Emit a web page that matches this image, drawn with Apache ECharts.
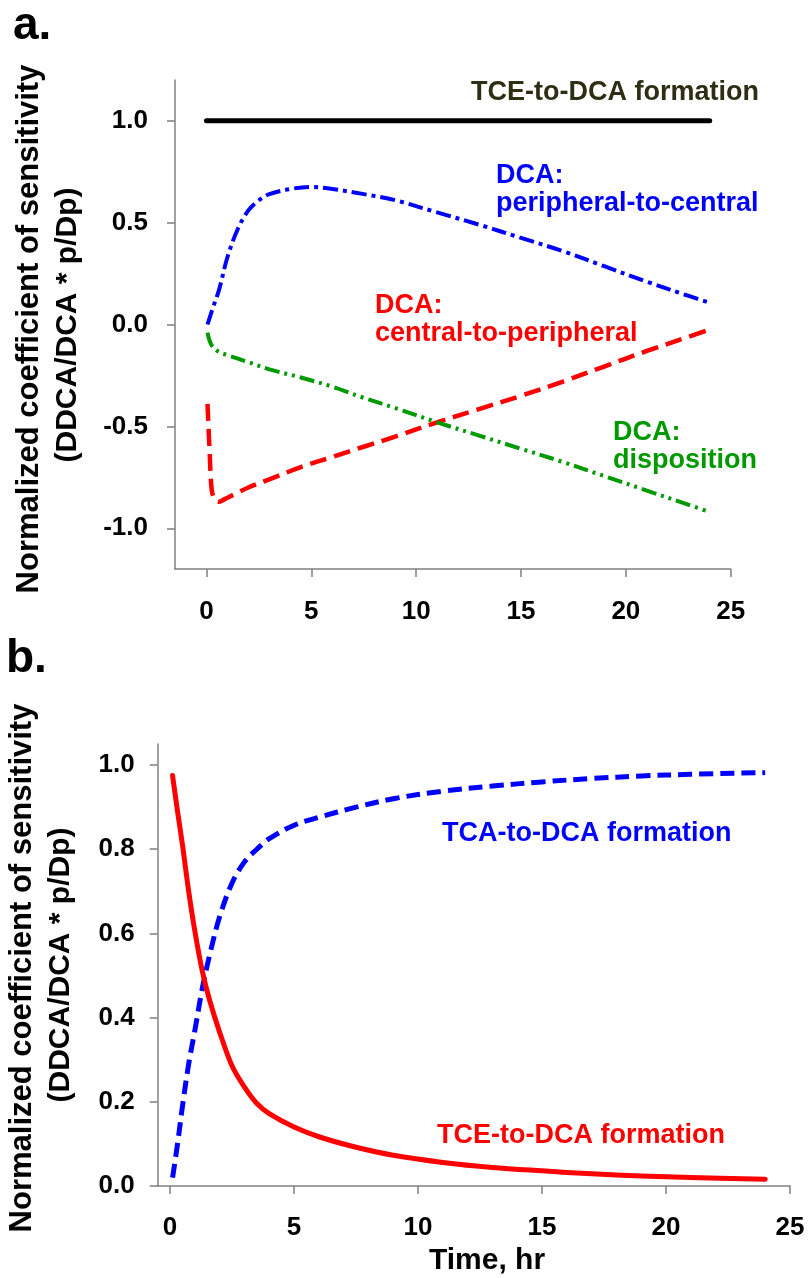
<!DOCTYPE html>
<html>
<head>
<meta charset="utf-8">
<script src="https://cdn.jsdelivr.net/npm/echarts@6/dist/echarts.min.js"></script>
<style>
html,body{margin:0;padding:0;background:#fff;}
#chart{width:809px;height:1278px;}
</style>
</head>
<body>
<div id="chart"></div>
<script>
// ---------- Ticks ----------
const xTicks = [0, 5, 10, 15, 20, 25];
const yTicksA = [-1.0, -0.5, 0.0, 0.5, 1.0];
const yTicksB = [0.0, 0.2, 0.4, 0.6, 0.8, 1.0];

// ---------- Panel a data ----------
const a_tce_t = [0, 24];
const a_tce_v = [1.0, 1.0];

const a_p2c_t = [0.05, 0.3, 0.6, 1.0, 1.5, 2.0, 2.5, 3.0, 4.0, 5.0, 6.0, 7.5, 9.0, 11.0, 13.0, 15.0, 17.0, 19.0, 21.0, 23.0, 24.0];
const a_p2c_v = [0.0, 0.08, 0.17, 0.33, 0.47, 0.56, 0.61, 0.64, 0.665, 0.675, 0.665, 0.64, 0.61, 0.55, 0.49, 0.425, 0.36, 0.285, 0.21, 0.14, 0.107];

const a_c2p_t = [0.05, 0.15, 0.25, 0.4, 0.6, 0.9, 1.3, 2.0, 3.0, 4.5, 6.0, 7.5, 9.0, 11.0, 13.0, 15.0, 17.0, 19.0, 21.0, 23.0, 24.0];
const a_c2p_v = [-0.39, -0.62, -0.81, -0.86, -0.87, -0.855, -0.835, -0.8, -0.76, -0.7, -0.65, -0.6, -0.55, -0.48, -0.415, -0.35, -0.28, -0.205, -0.13, -0.06, -0.025];

const a_disp_t = [0.05, 0.15, 0.3, 0.6, 1.0, 2.0, 3.0, 4.5, 6.0, 7.5, 9.0, 11.0, 13.0, 15.0, 17.0, 19.0, 21.0, 23.0, 24.0];
const a_disp_v = [-0.04, -0.08, -0.11, -0.135, -0.15, -0.185, -0.22, -0.26, -0.305, -0.36, -0.41, -0.48, -0.545, -0.61, -0.675, -0.745, -0.815, -0.885, -0.92];

// ---------- Panel b data ----------
const b_t = [0.1, 0.3, 0.5, 0.75, 1.0, 1.3, 1.6, 2.0, 2.5, 3.0, 3.5, 4.0, 5.0, 6.0, 7.5, 9.0, 11.0, 13.0, 15.0, 17.0, 19.0, 21.0, 24.0];
const b_tce_v = [0.975, 0.89, 0.81, 0.70, 0.605, 0.51, 0.44, 0.365, 0.285, 0.235, 0.196, 0.172, 0.14, 0.117, 0.092, 0.073, 0.056, 0.044, 0.036, 0.029, 0.024, 0.02, 0.016];
const b_tca_v = [0.02, 0.10, 0.19, 0.29, 0.37, 0.47, 0.55, 0.64, 0.72, 0.77, 0.80, 0.825, 0.857, 0.876, 0.90, 0.92, 0.938, 0.95, 0.96, 0.968, 0.974, 0.978, 0.982];

const FONT = "'Liberation Sans', Arial, sans-serif";

function zip(xs, ys) { return xs.map((x, i) => [x, ys[i]]); }

const axisLineStyle = { color: '#808080', width: 1.5 };

function xAxisDef(grid, min, margin) {
  return {
    type: 'value', gridIndex: grid, min: min, max: 25,
    axisLine: { show: true, onZero: false, lineStyle: axisLineStyle },
    axisTick: { show: true, customValues: xTicks, length: 8, lineStyle: axisLineStyle },
    axisLabel: { customValues: xTicks, margin: margin, color: '#000', fontSize: 26, fontWeight: 'bold', fontFamily: FONT },
    splitLine: { show: false }
  };
}
function yAxisDef(grid, min, max, ticks, margin) {
  return {
    type: 'value', gridIndex: grid, min: min, max: max,
    axisLine: { show: true, onZero: false, lineStyle: axisLineStyle },
    axisTick: { show: true, customValues: ticks, length: 8, lineStyle: axisLineStyle },
    axisLabel: { customValues: ticks, margin: margin, color: '#000', fontSize: 26, fontWeight: 'bold', fontFamily: FONT,
      formatter: v => Number(v).toFixed(1) },
    splitLine: { show: false }
  };
}

function lineSeries(xi, data, color, width, dash, cap) {
  return {
    type: 'line', xAxisIndex: xi, yAxisIndex: xi, data: data,
    showSymbol: false, symbol: 'none', smooth: 0.35,
    lineStyle: { color: color, width: width, type: dash, cap: cap || 'butt', join: 'round' },
    silent: true
  };
}

function txt(x, y, s, color, size, weight) {
  return {
    type: 'text', x: x, y: y,
    style: { text: s, fill: color, font: (weight || 'bold') + ' ' + size + 'px ' + FONT,
      textAlign: 'left', textVerticalAlign: 'middle' }
  };
}
function vtxt(x, y, s, size, weight) {
  return {
    type: 'text', x: x, y: y, rotation: Math.PI / 2,
    style: { text: s, fill: '#000', font: weight + ' ' + size + 'px ' + FONT,
      textAlign: 'center', textVerticalAlign: 'middle' }
  };
}

const chart = echarts.init(document.getElementById('chart'), null, { renderer: 'canvas' });
const option = {
  animation: false,
  backgroundColor: '#fff',
  grid: [
    { left: 175, top: 80, width: 555.7, height: 489 },
    { left: 157.7, top: 744, width: 632.3, height: 442 }
  ],
  xAxis: [xAxisDef(0, -1.5, 30), xAxisDef(1, -0.5, 29)],
  yAxis: [yAxisDef(0, -1.2, 1.2, yTicksA, 27), yAxisDef(1, 0, 1.05, yTicksB, 23)],
  series: [
    lineSeries(0, zip(a_tce_t, a_tce_v), '#000', 5, 'solid', 'round'),
    lineSeries(0, zip(a_p2c_t, a_p2c_v), '#0000ff', 4, [15, 5, 4, 5]),
    lineSeries(0, zip(a_c2p_t, a_c2p_v), '#ff0000', 4.5, [17, 8]),
    lineSeries(0, zip(a_disp_t, a_disp_v), '#009900', 4, [15, 5, 3, 5, 3, 5]),
    lineSeries(1, zip(b_t, b_tca_v), '#0000ff', 5, [14, 7]),
    lineSeries(1, zip(b_t, b_tce_v), '#ff0000', 5, 'solid', 'round')
  ],
  graphic: [
    txt(13, 26, 'a.', '#000', 46),
    txt(6, 659, 'b.', '#000', 46),
    vtxt(29, 329, 'Normalized coefficient of sensitivity', 31, 'bold'),
    vtxt(68, 325, '(DDCA/DCA * p/Dp)', 30, 'bold'),
    vtxt(22, 968, 'Normalized coefficient of sensitivity', 31, 'bold'),
    vtxt(61, 965, '(DDCA/DCA * p/Dp)', 30, 'bold'),
    txt(471, 93, 'TCE-to-DCA formation', '#2e2e14', 27),
    txt(496, 176, 'DCA:', '#0000ff', 27),
    txt(496, 204, 'peripheral-to-central', '#0000ff', 27),
    txt(375, 306, 'DCA:', '#ff0000', 27),
    txt(375, 334, 'central-to-peripheral', '#ff0000', 27),
    txt(613, 433, 'DCA:', '#009900', 27),
    txt(613, 461, 'disposition', '#009900', 27),
    txt(442, 834, 'TCA-to-DCA formation', '#0000ff', 27),
    txt(437, 1136, 'TCE-to-DCA formation', '#ff0000', 27),
    { type: 'text', x: 487, y: 1261, style: { text: 'Time, hr', fill: '#000', font: 'bold 30px ' + FONT, textAlign: 'center', textVerticalAlign: 'middle' } }
  ]
};
chart.setOption(option);
</script>
</body>
</html>
